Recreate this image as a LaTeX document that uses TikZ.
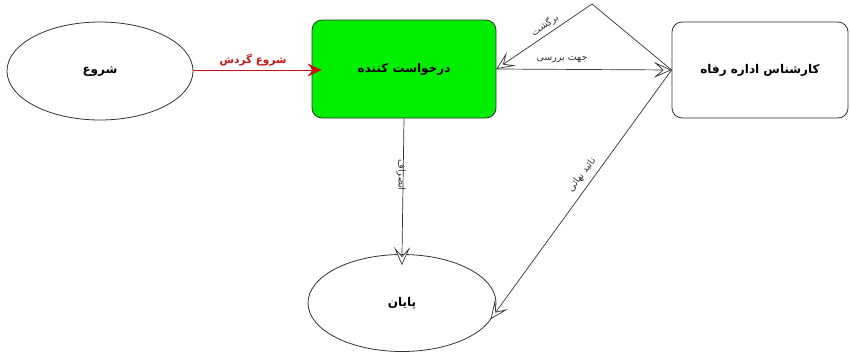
\documentclass[tikz,border=0pt]{standalone}
\usepackage{fontspec}
\newfontfamily\arabicfont[Script=Arabic]{DejaVu Sans}
\TeXXeTstate=1
\usetikzlibrary{arrows.meta,shapes.geometric}
\newcommand\artxt[1]{{\arabicfont\beginR #1\endR}}
\definecolor{linegray}{HTML}{333333}
\definecolor{boxgreen}{HTML}{00EE00}
\definecolor{labred}{HTML}{CC1111}
\begin{document}
\begin{tikzpicture}[x=1pt,y=-1pt,
  shapebase/.style={draw=linegray, line width=0.8pt, font=\bfseries\fontsize{12}{14}\selectfont},
  oval/.style={shapebase, ellipse, minimum width=186pt, minimum height=98pt, inner sep=0pt},
  roundbox/.style={shapebase, rectangle, rounded corners=10pt, minimum width=184pt, minimum height=98pt},
  conn/.style={draw=linegray, line width=0.7pt},
  hollowtip/.style={-{Stealth[length=18pt,width=16pt,inset=9pt,fill=white,line width=0.7pt]}},
  redconn/.style={draw=labred, line width=0.8pt, -{Stealth[length=14pt,width=13pt,inset=5pt,fill=labred]}},
  lab/.style={font=\fontsize{9.5}{11}\selectfont, text=linegray, inner sep=1pt}
]
\useasboundingbox (0,0) rectangle (850,356);
\fill[white] (0,0) rectangle (850,356);

\node[oval] (start) at (100,71) {\artxt{شروع}};
\node[roundbox, fill=boxgreen] (req) at (404,69) {\artxt{درخواست کننده}};
\node[roundbox, fill=white, minimum width=176pt, minimum height=96pt] (expert) at (760,70) {\artxt{کارشناس اداره رفاه}};
\node[oval, minimum width=188pt, minimum height=97pt] (end) at (402,303) {\artxt{پایان}};

\coordinate (apex) at (592,4);

\draw[redconn, shorten >=-10pt] (start.east |- 0,70) -- (req.west |- 0,70);
\node[lab, text=labred, font=\bfseries\fontsize{10.5}{12}\selectfont] (l1) at (253,60) {\artxt{شروع گردش}};

\draw[conn, hollowtip] (req.east) -- (expert.west);
\draw[conn, hollowtip] (expert.west) -- (apex) -- (req.east);
\node[lab] (l2) at (562,60) {\artxt{جهت بررسی}};
\node[lab, rotate=34] (l3) at (545,25) {\artxt{برگشت}};

\draw[conn, hollowtip, shorten >=-11pt] (req.south) -- (end.north);
\node[lab, rotate=-90] (l4) at (401,175) {\artxt{انصراف}};

\draw[conn, hollowtip, shorten >=-4pt] (expert.west) -- (end.-8);
\node[lab, rotate=53] (l5) at (582,175) {\artxt{تائید نهائی}};
\end{tikzpicture}
\end{document}
